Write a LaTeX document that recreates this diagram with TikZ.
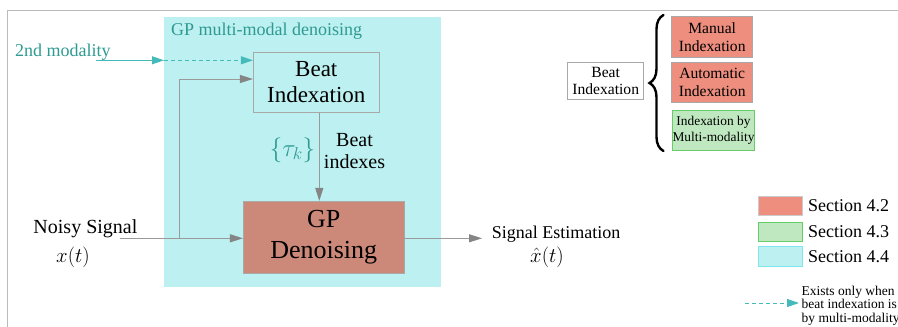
\documentclass[tikz,border=0pt]{standalone}
\usepackage[no-math]{fontspec}
\setmainfont{Liberation Serif}
\usetikzlibrary{arrows.meta,decorations.pathreplacing}
\definecolor{cyanbg}{HTML}{BDF0F0}
\definecolor{cyanedge}{HTML}{7FE6EE}
\definecolor{tealtext}{HTML}{2E9A92}
\definecolor{tealline}{HTML}{45BABA}
\definecolor{gpfill}{HTML}{CC8878}
\definecolor{salmon}{HTML}{EE8E7E}
\definecolor{greenfill}{HTML}{C0E8C0}
\definecolor{greenedge}{HTML}{66CC66}
\definecolor{lineg}{HTML}{9A9A9A}
\definecolor{arrowg}{HTML}{858585}
\definecolor{frameg}{HTML}{BBBBBB}
\definecolor{boxedge}{HTML}{A8A8A8}
\tikzset{
  garrow/.style={draw=lineg, line width=1pt, -{Triangle[length=13pt,width=8pt,color=arrowg]}},
  tarrow/.style={draw=tealline, line width=1pt, -{Triangle[length=12pt,width=8pt,color=tealline]}},
  tdash/.style={tarrow, dash pattern=on 4pt off 3pt},
  plainbox/.style={draw=boxedge, line width=0.8pt, inner sep=0pt, align=center, text=black},
  legbox/.style={inner sep=0pt, line width=1pt, minimum width=44.4pt},
  legtext/.style={anchor=west, inner sep=0pt, font=\fontsize{18}{20}\selectfont},
}
\begin{document}
\begin{tikzpicture}[x=1pt,y=-1pt]
\useasboundingbox (0,0) rectangle (898,327);
% frame
\draw[frameg, line width=1.3pt] (7.3,327) -- (7.3,10.7) -- (898,10.7);
% multimodal area
\node[fill=cyanbg, inner sep=0pt, minimum width=277pt, minimum height=270pt] (mm) at (302.5,152) {};
\node[anchor=base west, inner sep=0pt, text=tealtext, font=\fontsize{18}{20}\selectfont] (mmtitle) at (171,35) {GP multi-modal denoising};
% main boxes
\node[plainbox, fill=cyanbg, minimum width=126pt, minimum height=60pt, font=\fontsize{23}{26.5}\selectfont] (bi) at (316.3,82.3) {Beat\\Indexation};
\node[plainbox, fill=gpfill, minimum width=160.7pt, minimum height=72pt, font=\fontsize{26}{31}\selectfont] (gp) at (323.7,237.3) {GP\\Denoising};
% 2nd modality
\node[anchor=base west, inner sep=0pt, text=tealtext, font=\fontsize{18}{20}\selectfont] (mod) at (15,56.5) {2nd modality};
\coordinate (modstart) at (96,60.3);
\coordinate (mmleft) at (164,60.3);
\draw[tarrow] (modstart) -- (mmleft);
\draw[tdash] (mmleft) -- (mmleft -| bi.west);
% noisy signal
\node[anchor=base west, inner sep=0pt, font=\fontsize{20}{22}\selectfont] (noisy) at (33.3,233) {Noisy Signal};
\node[inner sep=0pt, font=\fontsize{20}{22}\selectfont] (xt) at (73,257.5) {$x(t)$};
\coordinate (nstart) at (120,238.3);
\coordinate (branch) at (179,238.3);
\coordinate (fb) at (179,79);
\draw[garrow] (nstart) -- (nstart -| gp.west);
\draw[garrow] (branch) -- (fb) -- (fb -| bi.west);
% beat indexes
\coordinate (vx) at (319.3,0);
\draw[garrow] (bi.south -| vx) -- (gp.north -| vx);
\node[inner sep=0pt, text=tealtext, font=\fontsize{23}{25}\selectfont] (tau) at (292.5,150) {$\{\tau_k\}$};
\node[inner sep=0pt, align=center, font=\fontsize{20}{21.5}\selectfont] (bidx) at (354.5,151) {Beat\\indexes};
% output
\coordinate (oy) at (0,238.3);
\coordinate (outend) at (482,238.3);
\draw[garrow] (gp.east |- oy) -- (outend);
\node[anchor=base west, inner sep=0pt, font=\fontsize{18}{20}\selectfont] (est) at (491.7,238) {Signal Estimation};
\node[inner sep=0pt, font=\fontsize{20}{22}\selectfont] (xhat) at (547,257) {$\hat{x}(t)$};
% right: indexation types
\node[plainbox, fill=white, minimum width=76pt, minimum height=37pt, font=\fontsize{15.6}{17.5}\selectfont] (bi2) at (605.7,80.8) {Beat\\Indexation};
\coordinate (brb) at (663.5,151);
\coordinate (brt) at (663.5,15);
\draw[black, line width=2.4pt, line cap=round, decorate, decoration={brace, amplitude=14pt}] (brb) -- (brt);
\node[plainbox, fill=salmon, minimum width=81pt, minimum height=40.6pt, font=\fontsize{15.6}{17.5}\selectfont] (man) at (712.2,37) {Manual\\Indexation};
\node[plainbox, fill=salmon, minimum width=81pt, minimum height=40.6pt, font=\fontsize{15.6}{17.5}\selectfont] (auto) at (712.2,82.3) {Automatic\\Indexation};
\node[plainbox, draw=greenedge, fill=greenfill, minimum width=82.4pt, minimum height=40.7pt, font=\fontsize{13.4}{15.5}\selectfont] (multi) at (713.5,130.3) {Indexation by\\Multi-modality};
% legend
\node[legbox, draw=boxedge!60, fill=salmon, minimum height=19pt] (l1) at (780.5,205.5) {};
\node[legbox, draw=greenedge, fill=greenfill, minimum height=19pt] (l2) at (780.5,231.8) {};
\node[legbox, draw=cyanedge, fill=cyanbg, minimum height=19.7pt] (l3) at (780.5,256.2) {};
\node[legtext] (t1) at (808,205.5) {Section 4.2};
\node[legtext] (t2) at (808,231.8) {Section 4.3};
\node[legtext] (t3) at (808,256.2) {Section 4.4};
\coordinate (la1) at (745,303);
\coordinate (la2) at (799,303);
\draw[tdash] (la1) -- (la2);
\node[anchor=north west, inner sep=0pt, align=left, font=\fontsize{13.5}{13.6}\selectfont] (exists) at (801.5,285.5) {Exists only when\\beat indexation is\\by multi-modality};
\end{tikzpicture}
\end{document}
